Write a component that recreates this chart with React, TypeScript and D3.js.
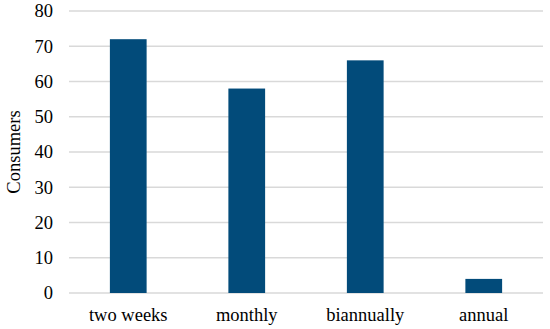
import { useEffect, useRef } from 'react'
import * as d3 from 'd3'

const categories = ['two weeks', 'monthly', 'biannually', 'annual']
const consumers = [72, 58, 66, 4]
const yTicks = [0, 10, 20, 30, 40, 50, 60, 70, 80]

export default function App() {
  const svgRef = useRef<SVGSVGElement>(null)

  useEffect(() => {
    if (!svgRef.current) return
    const svg = d3.select(svgRef.current)
    svg.selectAll('*').remove()

    const width = 550
    const height = 329
    const margin = { top: 11, right: 7, bottom: 36, left: 69 }
    const innerWidth = width - margin.left - margin.right
    const innerHeight = height - margin.top - margin.bottom
    const font = '"Liberation Serif", "Times New Roman", serif'

    const g = svg
      .append('g')
      .attr('transform', `translate(${margin.left},${margin.top})`)

    const x = d3.scaleBand().domain(categories).range([0, innerWidth]).paddingInner(0.69).paddingOuter(0.345)
    const y = d3.scaleLinear().domain([0, 80]).range([innerHeight, 0])

    g.selectAll('line.grid')
      .data(yTicks)
      .join('line')
      .attr('class', 'grid')
      .attr('x1', 0)
      .attr('x2', innerWidth)
      .attr('y1', d => y(d))
      .attr('y2', d => y(d))
      .attr('stroke', '#d9d9d9')
      .attr('stroke-width', 1.3)

    g.selectAll('rect')
      .data(consumers)
      .join('rect')
      .attr('x', (_, i) => x(categories[i]) as number)
      .attr('y', d => y(d))
      .attr('width', x.bandwidth())
      .attr('height', d => innerHeight - y(d))
      .attr('fill', '#024b7a')

    g.selectAll('text.ytick')
      .data(yTicks)
      .join('text')
      .attr('class', 'ytick')
      .attr('x', -16)
      .attr('y', d => y(d))
      .attr('dy', '0.35em')
      .attr('text-anchor', 'end')
      .style('font-family', font)
      .style('font-size', '18.5px')
      .attr('fill', '#000')
      .text(d => d)

    g.selectAll('text.xtick')
      .data(categories)
      .join('text')
      .attr('class', 'xtick')
      .attr('x', d => (x(d) as number) + x.bandwidth() / 2)
      .attr('y', innerHeight + 28)
      .attr('text-anchor', 'middle')
      .style('font-family', font)
      .style('font-size', '18.5px')
      .attr('fill', '#000')
      .text(d => d)

    svg.append('text')
      .attr('transform', `translate(20,${margin.top + innerHeight / 2}) rotate(-90)`)
      .attr('text-anchor', 'middle')
      .style('font-family', font)
      .style('font-size', '18.5px')
      .attr('fill', '#000')
      .text('Consumers')
  }, [])

  return (
    <svg
      ref={svgRef}
      width={550}
      height={329}
      style={{ position: 'absolute', left: 0, top: 0, background: '#fff' }}
    />
  )
}
